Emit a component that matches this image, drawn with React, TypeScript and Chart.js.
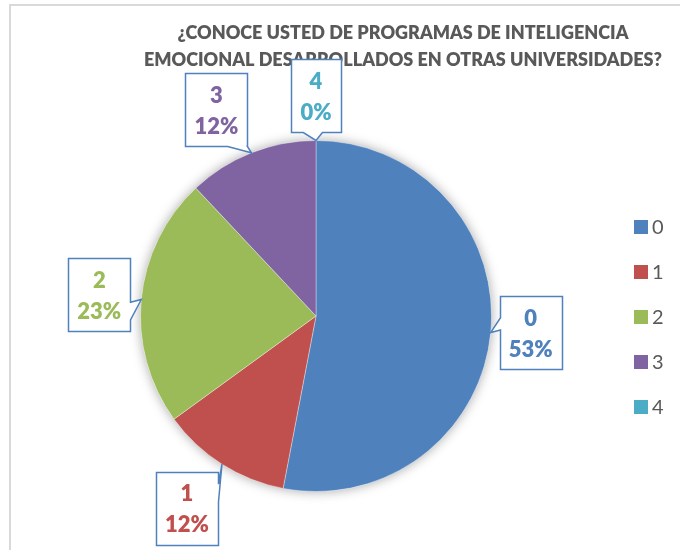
import React, { useEffect, useRef } from "react";
import { Chart, registerables } from "chart.js";

Chart.register(...registerables);

const categories = ["0", "1", "2", "3", "4"];
const percentages = [53, 12, 23, 12, 0];
const sliceColors = ["#4F81BD", "#C0504D", "#9BBB59", "#8064A2", "#4BACC6"];
const titleLines = [
  "¿CONOCE USTED DE PROGRAMAS DE INTELIGENCIA",
  "EMOCIONAL DESARROLLADOS EN OTRAS UNIVERSIDADES?",
];

// Callout placement: box centre offset from the slice's outer-edge midpoint,
// and the side / fractional span on which the pointer wedge sits.
const calloutLayout = [
  { dx: 40, dy: 0, side: "left", f0: 0.29, f1: 0.46 },
  { dx: -35, dy: 44, side: "right", f0: 0.16, f1: 0.4 },
  { dx: -42, dy: -5, side: "right", f0: 0.6, f1: 0.84 },
  { dx: -35, dy: -43, side: "bottom", f0: 0.68, f1: 1.0 },
  { dx: 0, dy: -45, side: "bottom", f0: 0.24, f1: 0.63 },
];

const FONT = "Lato, 'Open Sans', sans-serif";
const GRAY = "#595959";

const decorPlugin = {
  id: "decor",
  beforeDraw(chart: any) {
    const ctx = chart.ctx;
    ctx.save();
    ctx.fillStyle = "#ffffff";
    ctx.fillRect(0, 0, chart.width, chart.height);
    // outer frame (top & left visible)
    ctx.fillStyle = "#d9d9d9";
    ctx.fillRect(9, 4, chart.width - 9, 2);
    ctx.fillRect(9, 4, 2, chart.height - 4);
    // title
    ctx.fillStyle = GRAY;
    ctx.font = `800 18px ${FONT}`;
    ctx.textAlign = "center";
    ctx.textBaseline = "middle";
    titleLines.forEach((t, i) => ctx.fillText(t, 403, 33 + i * 27));
    // legend
    ctx.font = `20px ${FONT}`;
    ctx.textAlign = "left";
    categories.forEach((c, i) => {
      const y = 227 + i * 45;
      ctx.fillStyle = sliceColors[i];
      ctx.fillRect(634, y - 7, 14, 14);
      ctx.fillStyle = GRAY;
      ctx.fillText(c, 652, y + 1);
    });
    ctx.restore();
  },
  beforeDatasetsDraw(chart: any) {
    const meta = chart.getDatasetMeta(0);
    const a = meta.data[0];
    if (!a) return;
    const ctx = chart.ctx;
    ctx.save();
    ctx.shadowColor = "rgba(0,0,0,0.35)";
    ctx.shadowBlur = 12;
    ctx.fillStyle = "#ffffff";
    ctx.beginPath();
    ctx.arc(a.x, a.y, a.outerRadius, 0, Math.PI * 2);
    ctx.fill();
    ctx.restore();
  },
  afterDatasetsDraw(chart: any) {
    const meta = chart.getDatasetMeta(0);
    const ctx = chart.ctx;
    ctx.save();
    ctx.font = `800 22px ${FONT}`;
    meta.data.forEach((arc: any, i: number) => {
      const lay = calloutLayout[i];
      const mid = (arc.startAngle + arc.endAngle) / 2;
      const tx = arc.x + Math.cos(mid) * arc.outerRadius;
      const ty = arc.y + Math.sin(mid) * arc.outerRadius;
      const l1 = categories[i];
      const l2 = `${percentages[i]}%`;
      const w = Math.max(ctx.measureText(l1).width, ctx.measureText(l2).width) + 18;
      const h = 73;
      const cx = tx + lay.dx;
      const cy = ty + lay.dy;
      const L = Math.round(cx - w / 2) + 0.5;
      const R = Math.round(cx + w / 2) + 0.5;
      const T = Math.round(cy - h / 2) + 0.5;
      const B = Math.round(cy + h / 2) + 0.5;
      ctx.beginPath();
      ctx.moveTo(L, T);
      if (lay.side === "top") {
        ctx.lineTo(L + lay.f0 * w, T);
        ctx.lineTo(tx, ty);
        ctx.lineTo(L + lay.f1 * w, T);
      }
      ctx.lineTo(R, T);
      if (lay.side === "right") {
        ctx.lineTo(R, T + lay.f0 * h);
        ctx.lineTo(tx, ty);
        ctx.lineTo(R, T + lay.f1 * h);
      }
      ctx.lineTo(R, B);
      if (lay.side === "bottom") {
        ctx.lineTo(L + lay.f1 * w, B);
        ctx.lineTo(tx, ty);
        ctx.lineTo(L + lay.f0 * w, B);
      }
      ctx.lineTo(L, B);
      if (lay.side === "left") {
        ctx.lineTo(L, T + lay.f1 * h);
        ctx.lineTo(tx, ty);
        ctx.lineTo(L, T + lay.f0 * h);
      }
      ctx.closePath();
      ctx.fillStyle = "#ffffff";
      ctx.fill();
      ctx.strokeStyle = "#4F81BD";
      ctx.lineWidth = 1.5;
      ctx.stroke();
      ctx.fillStyle = sliceColors[i];
      ctx.textAlign = "center";
      ctx.textBaseline = "middle";
      ctx.fillText(l1, cx, cy - 14);
      ctx.fillText(l2, cx, cy + 17);
    });
    ctx.restore();
  },
};

export default function App() {
  const ref = useRef<HTMLCanvasElement | null>(null);
  useEffect(() => {
    if (!ref.current) return;
    const chart = new Chart(ref.current, {
      type: "pie",
      data: {
        labels: categories,
        datasets: [
          {
            data: percentages,
            backgroundColor: sliceColors,
            borderColor: "rgba(255,255,255,0.35)",
            borderWidth: 1,
          },
        ],
      },
      options: {
        responsive: false,
        animation: false,
        devicePixelRatio: 1,
        events: [],
        layout: { padding: { left: 140, right: 188, top: 140, bottom: 58 } },
        plugins: {
          legend: { display: false },
          title: { display: false },
          tooltip: { enabled: false },
        },
      },
      plugins: [decorPlugin],
    });
    return () => chart.destroy();
  }, []);
  return (
    <div style={{ position: "fixed", left: 0, top: 0, width: 680, height: 550, background: "#fff" }}>
      <canvas ref={ref} width={680} height={550} style={{ width: 680, height: 550, display: "block" }} />
    </div>
  );
}
